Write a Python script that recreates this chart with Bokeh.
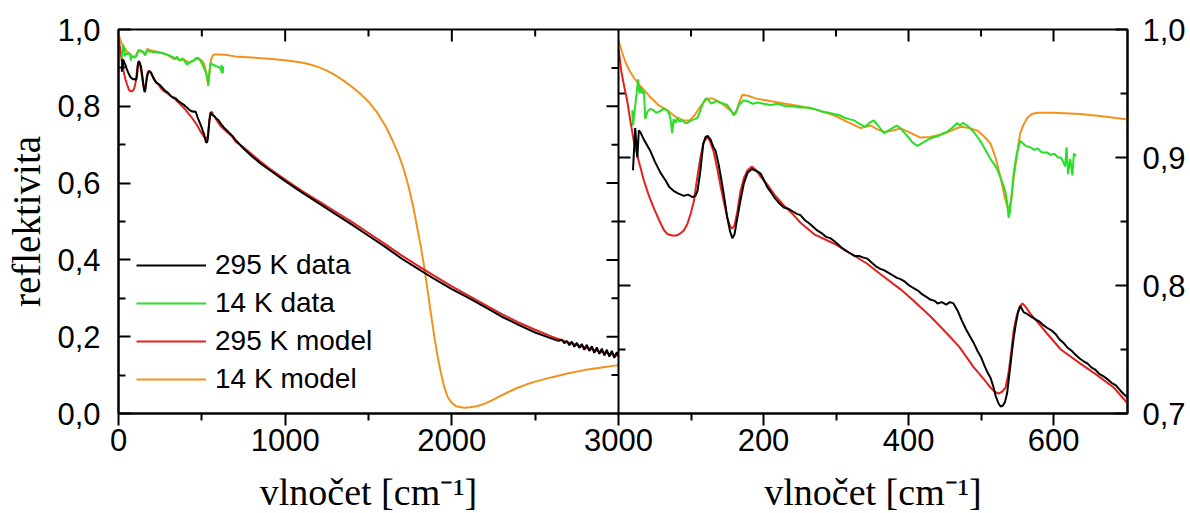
import numpy as np
from bokeh.plotting import figure
from bokeh.layouts import column
from bokeh.models import (Range1d, LinearAxis, FixedTicker, CustomJSTickFormatter,
                          Span, Legend, LegendItem)
from bokeh.core.properties import value
from bokeh.embed import file_html
from bokeh.resources import INLINE

# ---------------- data (wavenumber cm^-1, reflectivity) ----------------
BLACK_295K_DATA = [
    (20, 0.890), (23, 0.923), (26, 0.900), (28, 0.921), (30, 0.920), (35, 0.914), (40, 0.909),
    (44, 0.905), (50, 0.897), (58, 0.888), (65, 0.882), (70, 0.877), (76, 0.874), (82, 0.872),
    (90, 0.870), (96, 0.871), (102, 0.869), (106, 0.870), (109, 0.874), (113, 0.890), (117, 0.911),
    (120, 0.916), (123, 0.917), (127, 0.914), (131, 0.908), (134, 0.905), (138, 0.895), (142, 0.882),
    (145, 0.872), (150, 0.853), (154, 0.842), (157, 0.837), (160, 0.840), (164, 0.853), (168, 0.866),
    (173, 0.880), (178, 0.888), (184, 0.891), (188, 0.890), (192, 0.889), (196, 0.8875), (200, 0.883),
    (205, 0.877), (210, 0.873), (216, 0.868), (222, 0.864), (228, 0.861), (234, 0.860), (240, 0.858),
    (246, 0.856), (251, 0.855), (257, 0.851), (262, 0.849), (268, 0.846), (274, 0.843), (280, 0.841),
    (286, 0.838), (292, 0.837), (297, 0.835), (303, 0.832), (309, 0.829), (314, 0.827), (320, 0.825),
    (326, 0.823), (332, 0.823), (337, 0.822), (343, 0.821), (349, 0.818), (355, 0.815), (361, 0.813),
    (366, 0.812), (372, 0.810), (378, 0.808), (384, 0.806), (389, 0.805), (395, 0.803), (401, 0.800),
    (407, 0.798), (413, 0.796), (419, 0.793), (425, 0.791), (430, 0.789), (436, 0.788), (440, 0.786),
    (446, 0.787), (452, 0.785), (457, 0.787), (462, 0.786), (468, 0.780), (474, 0.772), (480, 0.765),
    (485, 0.760), (490, 0.755), (495, 0.749), (500, 0.744), (505, 0.737), (509, 0.732), (513, 0.728),
    (517, 0.721), (520, 0.714), (524, 0.708), (527, 0.7055), (530, 0.706), (533, 0.709), (536, 0.716),
    (540, 0.735), (543, 0.750), (545, 0.759), (548, 0.770), (551, 0.779), (554, 0.784), (557, 0.781),
    (559, 0.779), (563, 0.778), (568, 0.776), (574, 0.774), (580, 0.772), (586, 0.769), (591, 0.767),
    (597, 0.765), (603, 0.762), (608, 0.758), (614, 0.755), (619, 0.7516), (625, 0.749), (630, 0.746),
    (636, 0.743), (641, 0.741), (647, 0.739), (652, 0.736), (658, 0.734), (663, 0.731), (669, 0.729),
    (674, 0.727), (680, 0.724), (686, 0.722), (692, 0.718), (697, 0.715), (702, 0.7125),
    (750, 0.690), (800, 0.670), (850, 0.652), (900, 0.636), (1000, 0.605), (1100, 0.576),
    (1200, 0.548), (1300, 0.520), (1400, 0.492), (1500, 0.463), (1600, 0.434), (1700, 0.403),
    (1800, 0.376), (1900, 0.349), (2000, 0.324), (2100, 0.301), (2200, 0.277), (2300, 0.252),
    (2400, 0.231), (2500, 0.211), (2600, 0.195), (2640, 0.189), (2660, 0.192), (2675, 0.183),
    (2690, 0.189), (2705, 0.178), (2720, 0.187), (2735, 0.174), (2750, 0.184), (2765, 0.171),
    (2780, 0.181), (2795, 0.166), (2810, 0.179), (2825, 0.163), (2840, 0.175), (2855, 0.158),
    (2870, 0.172), (2885, 0.155), (2900, 0.169), (2915, 0.151), (2930, 0.166), (2945, 0.148),
    (2960, 0.163), (2975, 0.145), (2990, 0.160), (3000, 0.148),
]

GREEN_14K_DATA = [
    (19, 0.937), (20, 0.925), (22, 0.935), (25, 0.950), (27, 0.961), (29, 0.950), (31, 0.955),
    (33, 0.950), (35, 0.952), (37, 0.930), (40, 0.936), (44, 0.938), (48, 0.937), (52, 0.935),
    (57, 0.936), (62, 0.938), (67, 0.937), (70, 0.934), (72, 0.929), (74, 0.919), (76, 0.930),
    (79, 0.927), (81, 0.931), (84, 0.928), (88, 0.929), (92, 0.927), (95, 0.927), (100, 0.929),
    (105, 0.930), (109, 0.931), (113, 0.937), (117, 0.943), (120, 0.946), (124, 0.945), (128, 0.942),
    (131, 0.943), (135, 0.944), (140, 0.943), (145, 0.942), (150, 0.941), (155, 0.937), (159, 0.933),
    (162, 0.935), (166, 0.941), (172, 0.9445), (178, 0.944), (185, 0.942), (192, 0.943), (200, 0.942),
    (210, 0.941), (220, 0.942), (230, 0.940), (240, 0.940), (251, 0.939), (262, 0.939), (270, 0.938),
    (280, 0.936), (290, 0.935), (297, 0.934), (305, 0.933), (312, 0.931), (318, 0.930), (325, 0.929),
    (333, 0.926), (340, 0.924), (346, 0.927), (352, 0.929), (358, 0.925), (366, 0.919), (372, 0.921),
    (378, 0.923), (384, 0.925), (390, 0.922), (398, 0.917), (405, 0.912), (412, 0.909), (418, 0.911),
    (424, 0.913), (430, 0.915), (436, 0.916), (442, 0.917), (448, 0.919), (453, 0.920), (460, 0.923),
    (467, 0.927), (471, 0.925), (475, 0.927), (481, 0.925), (486, 0.922), (490, 0.920), (495, 0.916),
    (500, 0.912), (505, 0.907), (509, 0.903), (514, 0.898), (519, 0.894), (523, 0.890), (527, 0.884),
    (531, 0.878), (534, 0.872), (536, 0.865), (538, 0.853), (540, 0.858), (542, 0.870), (545, 0.8875),
    (549, 0.902), (554, 0.913), (558, 0.911), (562, 0.909), (568, 0.908), (573, 0.906), (578, 0.907),
    (584, 0.904), (591, 0.904), (596, 0.902), (601, 0.903), (606, 0.900), (610, 0.900), (613, 0.897),
    (616, 0.893), (618, 0.908), (620, 0.887), (623, 0.899), (626, 0.886), (628, 0.903), (631, 0.901),
]

RED_295K_MODEL = [
    (0, 0.985), (4, 0.967), (8, 0.955), (12, 0.9445), (16, 0.930), (21, 0.913), (28, 0.897),
    (35, 0.882), (42, 0.870), (49, 0.860), (56, 0.851), (63, 0.843), (68, 0.840), (74, 0.839),
    (80, 0.839), (86, 0.841), (90, 0.843), (95, 0.848), (100, 0.857), (104, 0.866), (108, 0.882),
    (113, 0.900), (117, 0.911), (122, 0.916), (126, 0.913), (131, 0.905), (136, 0.892), (141, 0.877),
    (145, 0.866), (150, 0.853), (154, 0.846), (157, 0.8445), (160, 0.847), (164, 0.858), (168, 0.873),
    (173, 0.884), (178, 0.890), (184, 0.893), (190, 0.890), (196, 0.885), (205, 0.879), (215, 0.871),
    (228, 0.8625), (240, 0.856), (251, 0.849), (270, 0.840), (297, 0.8328), (320, 0.825), (343, 0.817),
    (361, 0.809), (389, 0.797), (407, 0.788), (430, 0.776), (453, 0.7625), (470, 0.752), (490, 0.736),
    (505, 0.726), (513, 0.7203), (519, 0.717), (524, 0.7156), (529, 0.717), (534, 0.7203), (538, 0.732),
    (542, 0.750), (545, 0.765), (549, 0.776), (553, 0.783), (557, 0.786), (562, 0.783), (568, 0.778),
    (580, 0.770), (591, 0.7625), (610, 0.750), (637, 0.739), (660, 0.730), (683, 0.7203), (702, 0.708),
    (750, 0.693), (800, 0.675), (850, 0.657), (900, 0.640), (1000, 0.609), (1100, 0.580),
    (1200, 0.553), (1300, 0.526), (1400, 0.499), (1500, 0.470), (1600, 0.441), (1700, 0.411),
    (1800, 0.384), (1900, 0.357), (2000, 0.331), (2100, 0.307), (2200, 0.283), (2300, 0.259),
    (2400, 0.237), (2500, 0.218), (2600, 0.200), (2700, 0.185), (2800, 0.172), (2900, 0.160),
    (3000, 0.150),
]

ORANGE_14K_MODEL = [
    (0, 0.9914), (5, 0.982), (10, 0.974), (15, 0.968), (21, 0.9625), (30, 0.956), (38, 0.951),
    (44, 0.947), (55, 0.941), (67, 0.937), (78, 0.932), (90, 0.929), (98, 0.929), (105, 0.933),
    (113, 0.940), (122, 0.946), (130, 0.946), (136, 0.9445), (145, 0.941), (154, 0.937), (159, 0.934),
    (163, 0.937), (167, 0.944), (171, 0.949), (180, 0.948), (190, 0.946), (205, 0.9445), (230, 0.942),
    (251, 0.940), (275, 0.937), (297, 0.933), (315, 0.928), (334, 0.923), (341, 0.924), (348, 0.925),
    (357, 0.922), (366, 0.920), (378, 0.921), (389, 0.9227), (400, 0.920), (416, 0.9156), (430, 0.916),
    (445, 0.918), (453, 0.9195), (463, 0.922), (472, 0.924), (484, 0.923), (495, 0.921), (505, 0.916),
    (513, 0.911), (520, 0.900), (527, 0.8844), (533, 0.868), (538, 0.8586), (542, 0.868), (545, 0.884),
    (550, 0.904), (554, 0.919), (559, 0.926), (564, 0.931), (570, 0.934), (578, 0.935), (600, 0.935),
    (637, 0.934), (670, 0.932), (702, 0.9297),
    (800, 0.927), (900, 0.924), (1000, 0.920), (1100, 0.914), (1150, 0.909), (1200, 0.902),
    (1250, 0.893), (1300, 0.881), (1350, 0.867), (1400, 0.851), (1450, 0.833), (1500, 0.812),
    (1550, 0.785), (1600, 0.750), (1640, 0.715), (1680, 0.675), (1710, 0.638), (1740, 0.592),
    (1770, 0.535), (1795, 0.478), (1815, 0.432), (1835, 0.380), (1855, 0.320), (1875, 0.258),
    (1895, 0.200), (1915, 0.148), (1935, 0.104), (1955, 0.068), (1975, 0.043), (2000, 0.027),
    (2030, 0.018), (2074, 0.015), (2110, 0.016), (2150, 0.019), (2194, 0.025), (2240, 0.034),
    (2290, 0.045), (2340, 0.056), (2394, 0.067), (2450, 0.076), (2500, 0.083), (2595, 0.094),
    (2700, 0.105), (2795, 0.113), (2900, 0.120), (3000, 0.126),
]

SERIES = [  # (legend label, points, colour)
    ("295 K data", BLACK_295K_DATA, "#000000"),
    ("14 K data", GREEN_14K_DATA, "#26df26"),
    ("295 K model", RED_295K_MODEL, "#e2201c"),
    ("14 K model", ORANGE_14K_MODEL, "#f1921f"),
]
DRAW_ORDER = ["14 K model", "295 K model", "14 K data", "295 K data"]

# axis definitions
LEFT_X_RANGE = (0, 3000)
RIGHT_X_RANGE = (0, 702)
LEFT_Y_RANGE = (0.0, 1.0)
RIGHT_Y_RANGE = (0.7, 1.0)
LEFT_X_TICKS = [0, 1000, 2000, 3000]
LEFT_X_MINOR = [500, 1500, 2500]
RIGHT_X_TICKS = [200, 400, 600]
RIGHT_X_MINOR = [100, 300, 500]
LEFT_Y_TICKS = [0.0, 0.2, 0.4, 0.6, 0.8, 1.0]
LEFT_Y_MINOR = [0.1, 0.3, 0.5, 0.7, 0.9]
RIGHT_Y_TICKS = [0.7, 0.8, 0.9, 1.0]
RIGHT_Y_MINOR = [0.75, 0.85, 0.95]
X_LABEL = "vlnočet [cm⁻¹]"
Y_LABEL = "reflektivita"

# ---------------- layout ----------------
LEFT_W, RIGHT_W = 500, 509          # pixel widths of the two panels
split = LEFT_X_RANGE[1]
full_end = split * (LEFT_W + RIGHT_W) / LEFT_W
right_start = -RIGHT_X_RANGE[1] * LEFT_W / RIGHT_W
k = (full_end - split) / RIGHT_X_RANGE[1]


def to_main(v):
    return split + v * k


TICK_FONT = "Liberation Sans"
LABEL_FONT = "Liberation Serif"
TICK_SIZE = "31px"
MAJOR_LEN, MINOR_LEN = 12, 7

x_main = Range1d(LEFT_X_RANGE[0], full_end)
x_zoom = Range1d(right_start, RIGHT_X_RANGE[1])

p = figure(width=1190, height=470, output_backend="svg", toolbar_location=None, title=None,
           x_range=x_main, y_range=Range1d(*LEFT_Y_RANGE),
           x_axis_location=None, y_axis_location=None,
           min_border_left=118, min_border_right=63, min_border_top=29, min_border_bottom=57)
p.extra_x_ranges = {"zoom": x_zoom}
p.extra_y_ranges = {"zoom": Range1d(*RIGHT_Y_RANGE)}
p.outline_line_color = "black"
p.outline_line_width = 2
p.background_fill_color = "white"
p.border_fill_color = "white"
p.xgrid.visible = False
p.ygrid.visible = False


def style(ax, t_in, t_out, m_in, m_out, standoff):
    ax.axis_line_width = 2
    ax.axis_line_color = "black"
    ax.major_tick_line_width = 2
    ax.minor_tick_line_width = 2
    ax.major_tick_line_color = "black"
    ax.minor_tick_line_color = "black"
    ax.major_tick_in, ax.major_tick_out = t_in, t_out
    ax.minor_tick_in, ax.minor_tick_out = m_in, m_out
    ax.major_label_text_font = TICK_FONT
    ax.major_label_text_color = "black"
    ax.major_label_text_font_size = TICK_SIZE
    ax.major_label_standoff = standoff


x_ticks = LEFT_X_TICKS + [to_main(v) for v in RIGHT_X_TICKS]
x_minor = LEFT_X_MINOR + [to_main(v) for v in RIGHT_X_MINOR]
x_fmt = CustomJSTickFormatter(args=dict(split=split, k=k), code="""
    if (tick <= split + 0.5) { return tick.toFixed(0); }
    return ((tick - split) / k).toFixed(0);
""")
comma_fmt = CustomJSTickFormatter(code="return tick.toFixed(1).replace('.', ',');")

xb = LinearAxis(ticker=FixedTicker(ticks=x_ticks, minor_ticks=x_minor), formatter=x_fmt)
style(xb, 0, MAJOR_LEN, 0, MINOR_LEN, 3)
p.add_layout(xb, "below")

yl = LinearAxis(ticker=FixedTicker(ticks=LEFT_Y_TICKS, minor_ticks=LEFT_Y_MINOR), formatter=comma_fmt,
                axis_label=Y_LABEL)
style(yl, MAJOR_LEN, 0, MINOR_LEN, 0, 18)
yl.axis_label_text_font = LABEL_FONT
yl.axis_label_text_font_size = "39px"
yl.axis_label_text_font_style = "normal"
yl.axis_label_text_color = "black"
yl.axis_label_standoff = 6
p.add_layout(yl, "left")

yr = LinearAxis(y_range_name="zoom", ticker=FixedTicker(ticks=RIGHT_Y_TICKS, minor_ticks=RIGHT_Y_MINOR),
                formatter=comma_fmt)
style(yr, MAJOR_LEN, 0, MINOR_LEN, 0, 15)
p.add_layout(yr, "right")

# divider between the two panels
p.add_layout(Span(location=split, dimension="height", line_color="black", line_width=2))


def inner_ticks(xs, ys, length, angle, **kw):
    p.ray(x=xs, y=ys, length=length, length_units="screen", angle=angle,
          line_color="black", line_width=2, **kw)


# inward ticks on the divider (both panels) and on the top edge (both panels)
lmaj = [v for v in LEFT_Y_TICKS if LEFT_Y_RANGE[0] < v < LEFT_Y_RANGE[1]]
rmaj = [v for v in RIGHT_Y_TICKS if RIGHT_Y_RANGE[0] < v < RIGHT_Y_RANGE[1]]
inner_ticks([split] * len(lmaj), lmaj, MAJOR_LEN, np.pi)
inner_ticks([split] * len(LEFT_Y_MINOR), LEFT_Y_MINOR, MINOR_LEN, np.pi)
inner_ticks([RIGHT_X_RANGE[0]] * len(rmaj), rmaj, MAJOR_LEN, 0, x_range_name="zoom", y_range_name="zoom")
inner_ticks([RIGHT_X_RANGE[0]] * len(RIGHT_Y_MINOR), RIGHT_Y_MINOR, MINOR_LEN, 0,
            x_range_name="zoom", y_range_name="zoom")
ltop = [v for v in LEFT_X_TICKS if LEFT_X_RANGE[0] < v < LEFT_X_RANGE[1]]
inner_ticks(ltop, [LEFT_Y_RANGE[1]] * len(ltop), MAJOR_LEN, -np.pi / 2)
inner_ticks(LEFT_X_MINOR, [LEFT_Y_RANGE[1]] * len(LEFT_X_MINOR), MINOR_LEN, -np.pi / 2)
inner_ticks(RIGHT_X_TICKS, [RIGHT_Y_RANGE[1]] * len(RIGHT_X_TICKS), MAJOR_LEN, -np.pi / 2,
            x_range_name="zoom", y_range_name="zoom")
inner_ticks(RIGHT_X_MINOR, [RIGHT_Y_RANGE[1]] * len(RIGHT_X_MINOR), MINOR_LEN, -np.pi / 2,
            x_range_name="zoom", y_range_name="zoom")

# data lines, in both panels
renderers = {}
lookup = {name: (pts, col) for name, pts, col in SERIES}
for name in DRAW_ORDER:
    pts, col = lookup[name]
    xs = [a for a, b in pts]
    ys = [b for a, b in pts]
    renderers[name] = p.line(xs, ys, line_color=col, line_width=2)
    p.line(xs, ys, line_color=col, line_width=2, x_range_name="zoom", y_range_name="zoom")

legend = Legend(items=[LegendItem(label=name, renderers=[renderers[name]]) for name, _, _ in SERIES],
                location=(18, 15), glyph_width=70, glyph_height=38, label_height=38, spacing=0,
                padding=0, margin=0, label_standoff=9, border_line_alpha=0, background_fill_alpha=0,
                label_text_font=TICK_FONT, label_text_font_size="28px", label_text_color="black")
p.add_layout(legend)

# strip under the plot carrying the two x-axis titles, one under each panel;
# the titles hang from the top of the strip
LABEL_STRIP_H = 43
LABEL_TOP_GAP = 0   # px between strip top and the text's top
q = figure(width=1190, height=LABEL_STRIP_H, output_backend="svg", toolbar_location=None, title=None,
           x_range=x_main, y_range=Range1d(0, 1),
           x_axis_location=None, y_axis_location=None,
           min_border_left=118, min_border_right=63, min_border_top=0, min_border_bottom=0)
q.extra_x_ranges = {"zoom": x_zoom}
q.outline_line_color = None
q.background_fill_color = "white"
q.border_fill_color = "white"
q.xgrid.visible = False
q.ygrid.visible = False
q.text(x=[(LEFT_X_RANGE[0] + LEFT_X_RANGE[1]) / 2], y=[1], text=[X_LABEL], y_offset=LABEL_TOP_GAP,
       text_align="center", text_baseline="top", text_font=value(LABEL_FONT),
       text_font_size=value("38px"), text_color="black")
q.text(x=[(RIGHT_X_RANGE[0] + RIGHT_X_RANGE[1]) / 2], y=[1], text=[X_LABEL], y_offset=LABEL_TOP_GAP,
       text_align="center", text_baseline="top", text_font=value(LABEL_FONT),
       text_font_size=value("38px"), text_color="black", x_range_name="zoom")

layout = column(p, q, spacing=0)
open("out.html", "w").write(file_html(layout, INLINE))
